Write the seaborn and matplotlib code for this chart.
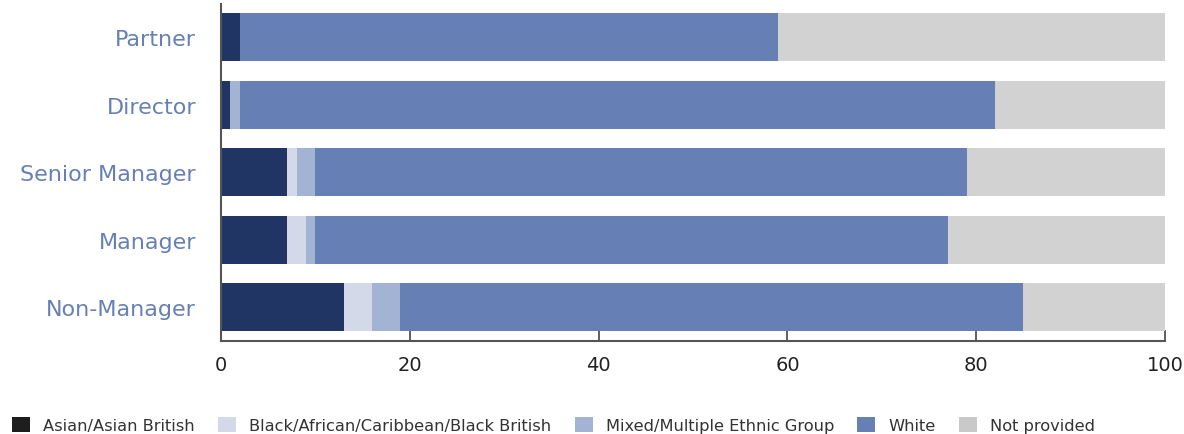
import numpy as np
import pandas as pd
import seaborn as sns
import matplotlib
matplotlib.use("Agg")
import matplotlib.pyplot as plt
from matplotlib.patches import Patch

categories = ["Partner", "Director", "Senior Manager", "Manager", "Non-Manager"]
asian = [2, 1, 7, 7, 13]
black = [0, 0, 1, 2, 3]
mixed = [0, 1, 2, 1, 3]
white = [57, 80, 69, 67, 66]
not_provided = [41, 18, 21, 23, 15]

series_names = ["Asian/Asian British", "Black/African/Caribbean/Black British",
                "Mixed/Multiple Ethnic Group", "White", "Not provided"]
bar_colors = ["#203563", "#d3d9e8", "#a3b3d4", "#6680b6", "#d2d2d2"]
legend_colors = ["#1e1e1e", "#d3d9e8", "#a3b3d4", "#6680b6", "#c9c9c9"]

sns.set_theme(style="white")
plt.rcParams["font.family"] = ["DejaVu Sans"]

df = pd.DataFrame({"category": categories, "s0": asian, "s1": black,
                   "s2": mixed, "s3": white, "s4": not_provided})
cols = ["s0", "s1", "s2", "s3", "s4"]
cum = df[cols].cumsum(axis=1)

fig = plt.figure(figsize=(11.84, 4.35), dpi=100)
ax = fig.add_axes([0.1867, 0.2138, 0.7973, 0.7747])

for i in reversed(range(5)):
    sns.barplot(x=cum[cols[i]], y=df["category"], orient="h", color=bar_colors[i],
                saturation=1, width=0.71, ax=ax, edgecolor="none", linewidth=0)

ax.set_xlim(0, 100)
ax.set_ylim(4.5, -0.49)
ax.set_xlabel("")
ax.set_ylabel("")
ax.set_xticks([0, 20, 40, 60, 80, 100])
ax.tick_params(axis="x", direction="in", length=8, width=1.2, color="#444444",
               labelsize=14, labelcolor="#222222", pad=10, bottom=True)
ax.tick_params(axis="y", length=0, labelsize=16, labelcolor="#6680b6", pad=18)
for s in ["top", "right"]:
    ax.spines[s].set_visible(False)
for s in ["left", "bottom"]:
    ax.spines[s].set_color("#555555")
    ax.spines[s].set_linewidth(1.5)

handles = [Patch(facecolor=c, edgecolor="none") for c in legend_colors]
fig.legend(handles, series_names, loc="lower left", bbox_to_anchor=(12 / 1184, 1 / 435),
           ncol=5, frameon=False, fontsize=11.7, handlelength=1.1, handleheight=1.1,
           handletextpad=0.8, columnspacing=1.45, labelcolor="#333333",
           borderpad=0, borderaxespad=0)

fig.savefig("out.png", dpi=100)
